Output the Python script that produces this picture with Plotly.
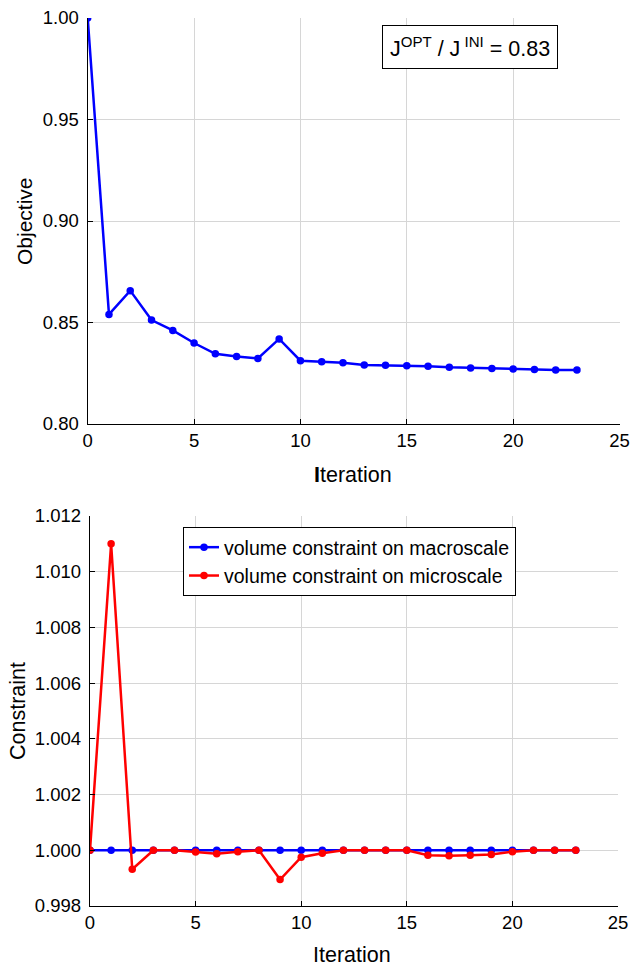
import plotly.graph_objects as go

W, H = 630, 967

iterations = list(range(24))
objective = [1.0000, 0.8540, 0.8657, 0.8512, 0.8461, 0.8399, 0.8346, 0.8332,
             0.8323, 0.8419, 0.8312, 0.8307, 0.8302, 0.8291, 0.8289, 0.8287,
             0.8284, 0.8279, 0.8276, 0.8274, 0.8271, 0.8268, 0.8266, 0.8266]
macro = [1.0] * 24
micro = [1.0000, 1.01100, 0.99932, 1.0000, 1.0000, 0.99994, 0.99988, 0.99995,
         1.0000, 0.99895, 0.99975, 0.99989, 1.0000, 1.0000, 1.0000, 1.0000,
         0.99982, 0.99980, 0.99982, 0.99985, 0.99995, 1.0000, 1.0000, 1.0000]

x_ticks = [0, 5, 10, 15, 20, 25]
obj_ticks = [0.80, 0.85, 0.90, 0.95, 1.00]
con_ticks = [0.998, 1.000, 1.002, 1.004, 1.006, 1.008, 1.010, 1.012]

FONT = "Liberation Sans, Arial, Helvetica, sans-serif"
BLUE = "#0000ff"
RED = "#ff0000"

fig = go.Figure()
fig.add_trace(go.Scatter(x=iterations, y=objective, mode="lines+markers",
                         line=dict(color=BLUE, width=2.5), marker=dict(size=7.5, color=BLUE),
                         xaxis="x", yaxis="y", showlegend=False))
fig.add_trace(go.Scatter(x=iterations, y=macro, mode="lines+markers",
                         name="volume constraint on macroscale",
                         line=dict(color=BLUE, width=2.5), marker=dict(size=7.5, color=BLUE),
                         xaxis="x2", yaxis="y2"))
fig.add_trace(go.Scatter(x=iterations, y=micro, mode="lines+markers",
                         name="volume constraint on microscale",
                         line=dict(color=RED, width=2.5), marker=dict(size=7.5, color=RED),
                         xaxis="x2", yaxis="y2"))

def px_x(p):
    return p / W

def px_y(p):
    return 1 - p / H

axis_common = dict(showline=True, linecolor="black", linewidth=1.3, mirror=False,
                   showgrid=True, gridcolor="#d6d6d6", gridwidth=1,
                   ticks="inside", ticklen=5, tickcolor="black", tickwidth=1,
                   zeroline=False, automargin=False, ticklabeloverflow="allow",
                   tickfont=dict(family=FONT, size=18.5, color="black"))

fig.update_layout(
    width=W, height=H,
    margin=dict(l=0, r=0, t=0, b=0),
    paper_bgcolor="white", plot_bgcolor="white",
    font=dict(family=FONT, color="black"),
    xaxis=dict(domain=[px_x(87.7), px_x(619.5)], range=[0, 25], tickvals=x_ticks,
               anchor="y", **axis_common),
    yaxis=dict(domain=[px_y(424), px_y(18)], range=[0.80, 1.00], tickvals=obj_ticks,
               tickformat=".2f", anchor="x", ticklabelstandoff=4, **axis_common),
    xaxis2=dict(domain=[px_x(90), px_x(618)], range=[0, 25], tickvals=x_ticks,
                anchor="y2", **axis_common),
    yaxis2=dict(domain=[px_y(906), px_y(516)], range=[0.998, 1.012], tickvals=con_ticks,
                tickformat=".3f", anchor="x2", ticklabelstandoff=4, **axis_common),
    legend=dict(x=px_x(183), y=px_y(527), xanchor="left", yanchor="top",
                bgcolor="white", bordercolor="black", borderwidth=1,
                font=dict(family=FONT, size=19.5, color="black"),
                tracegroupgap=0, itemwidth=30),
)

annotations = [
    dict(text="J<sup>OPT</sup> / J<sup> INI</sup> = 0.83", x=px_x(469.5), y=px_y(47),
         xref="paper", yref="paper", showarrow=False, xanchor="center", yanchor="middle",
         font=dict(family=FONT, size=21.5, color="black"), bgcolor="white",
         bordercolor="black", borderwidth=1, borderpad=7),
    dict(text="Objective", x=px_x(25), y=px_y(221), xref="paper", yref="paper",
         showarrow=False, textangle=-90, xanchor="center", yanchor="middle",
         font=dict(family=FONT, size=21, color="black")),
    dict(text="<b>I</b>teration", x=px_x(353), y=px_y(475), xref="paper", yref="paper",
         showarrow=False, xanchor="center", yanchor="middle",
         font=dict(family=FONT, size=21.5, color="black")),
    dict(text="Constraint", x=px_x(18), y=px_y(711), xref="paper", yref="paper",
         showarrow=False, textangle=-90, xanchor="center", yanchor="middle",
         font=dict(family=FONT, size=21.5, color="black")),
    dict(text="Iteration", x=px_x(352), y=px_y(955), xref="paper", yref="paper",
         showarrow=False, xanchor="center", yanchor="middle",
         font=dict(family=FONT, size=21.5, color="black")),
]
fig.update_layout(annotations=annotations)

fig.write_html("out.html")
